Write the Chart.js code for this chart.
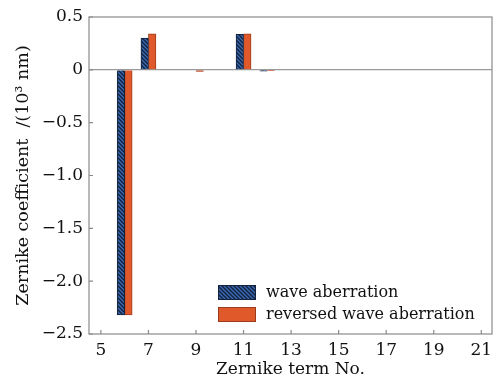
<!DOCTYPE html>
<html>
<head>
<meta charset="utf-8">
<script src="https://cdn.jsdelivr.net/npm/chart.js@4/dist/chart.umd.min.js"></script>
<style>
  html, body { margin: 0; padding: 0; background: #fff; }
  #wrap { width: 497px; height: 383px; }
</style>
</head>
<body>
<div id="wrap"><canvas id="chart" width="497" height="383"></canvas></div>
<script>
// --- data ---
const terms = [5, 6, 7, 8, 9, 10, 11, 12, 13, 14, 15, 16, 17, 18, 19, 20, 21];
const waveAberration =     [0, -2.32, 0.30, 0, 0,      0, 0.336, -0.012, 0, 0, 0, 0, 0, 0, 0, 0, 0];
const reversedAberration = [0, -2.32, 0.34, 0, -0.015, 0, 0.34,  -0.008, 0, 0, 0, 0, 0, 0, 0, 0, 0];
const xTicks = [5, 7, 9, 11, 13, 15, 17, 19, 21];
const yTicks = [0.5, 0, -0.5, -1.0, -1.5, -2.0, -2.5];
const seriesNames = ['wave aberration', 'reversed wave aberration'];

const FONT = 'DejaVu Serif';
const TEXT = '#111';
const AXIS_COLOR = '#8a8a8a';

// blue fill with dark diagonal hatch
function hatch() {
    const c = document.createElement('canvas');
    c.width = 4; c.height = 4;
    const g = c.getContext('2d');
    g.fillStyle = '#3a6cb6';
    g.fillRect(0, 0, 4, 4);
    g.strokeStyle = '#15223f';
    g.lineWidth = 1.5;
    g.beginPath();
    g.moveTo(-1, -1); g.lineTo(5, 5);
    g.moveTo(-1, 3); g.lineTo(1, 5);
    g.moveTo(3, -1); g.lineTo(5, 1);
    g.stroke();
    return g.createPattern(c, 'repeat');
}
const bluePattern = hatch();

const toPoints = vals => terms.map((t, i) => ({ x: t, y: vals[i] }));

// frame, inner ticks and the legend inside the plot
const framePlugin = {
    id: 'frame',
    afterDraw(chart) {
        const { ctx, chartArea: a, scales } = chart;
        ctx.save();
        ctx.strokeStyle = AXIS_COLOR;
        ctx.lineWidth = 1.2;
        ctx.strokeRect(a.left, a.top, a.right - a.left, a.bottom - a.top);
        ctx.beginPath();
        xTicks.forEach(v => {
            const px = scales.x.getPixelForValue(v);
            ctx.moveTo(px, a.bottom); ctx.lineTo(px, a.bottom - 4);
        });
        yTicks.forEach(v => {
            const py = scales.y.getPixelForValue(v);
            ctx.moveTo(a.left, py); ctx.lineTo(a.left + 4, py);
        });
        ctx.stroke();

        // legend
        const bx = a.left + 129, by = a.top + 268;
        chart.data.datasets.forEach((ds, i) => {
            const y = by + i * 22;
            ctx.fillStyle = ds.backgroundColor;
            ctx.fillRect(bx, y, 38, 15);
            ctx.strokeStyle = ds.borderColor;
            ctx.lineWidth = 1;
            ctx.strokeRect(bx + 0.5, y + 0.5, 37, 14);
            ctx.fillStyle = TEXT;
            ctx.font = '16px "' + FONT + '"';
            ctx.textBaseline = 'middle';
            ctx.fillText(ds.label, bx + 48, y + 8);
        });
        ctx.restore();
    }
};

new Chart(document.getElementById('chart'), {
    type: 'bar',
    data: {
        datasets: [
            { label: seriesNames[0], data: toPoints(waveAberration), backgroundColor: bluePattern, borderColor: '#15223f', borderWidth: 1 },
            { label: seriesNames[1], data: toPoints(reversedAberration), backgroundColor: '#e0592b', borderColor: '#9c3c1c', borderWidth: 1 }
        ]
    },
    options: {
        responsive: false,
        animation: false,
        barThickness: 7.5,
        layout: { padding: { top: 17, right: 5, left: 0, bottom: 0 } },
        plugins: { legend: { display: false }, tooltip: { enabled: false } },
        scales: {
            x: {
                type: 'linear',
                min: 4.5,
                max: 21.45,
                offset: false,
                afterBuildTicks: s => { s.ticks = xTicks.map(v => ({ value: v })); },
                afterFit: s => { s.height = 49; },
                grid: { display: false },
                border: { display: false },
                ticks: { color: TEXT, font: { family: FONT, size: 17 }, padding: -2, maxRotation: 0 },
                title: { display: true, text: 'Zernike term No.', color: TEXT, font: { family: FONT, size: 17 }, padding: { top: 0, bottom: 3 } }
            },
            y: {
                min: -2.5,
                max: 0.5,
                afterBuildTicks: s => { s.ticks = yTicks.map(v => ({ value: v })); },
                afterFit: s => { s.width = 89; },
                grid: {
                    drawTicks: false,
                    color: c => c.tick && c.tick.value === 0 ? '#9a9a9a' : 'rgba(0,0,0,0)',
                    lineWidth: 1.2
                },
                border: { display: false },
                ticks: {
                    color: TEXT,
                    font: { family: FONT, size: 17 },
                    padding: 6,
                    callback: v => v === 0 ? '0' : (v < 0 ? '\u2212' : '') + Math.abs(v).toFixed(1)
                },
                title: { display: true, text: 'Zernike coefficient  /(10\u00b3 nm)', color: TEXT, font: { family: FONT, size: 17.5 }, padding: { top: 13, bottom: 4 } }
            }
        }
    },
    plugins: [framePlugin]
});
</script>
</body>
</html>
